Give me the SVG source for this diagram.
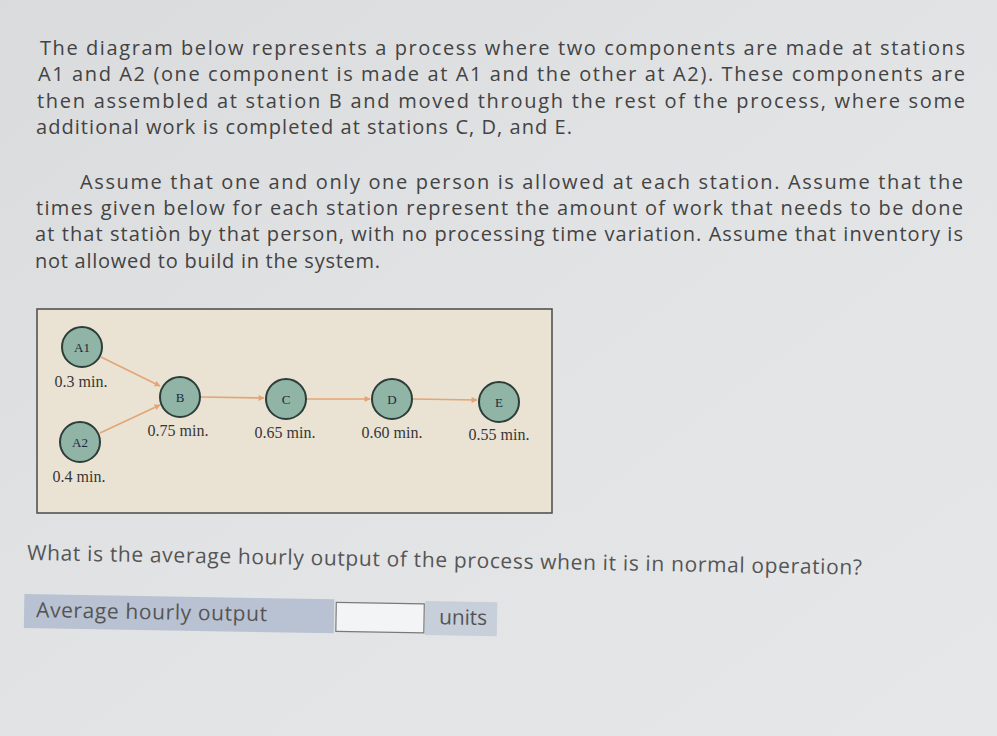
<svg xmlns="http://www.w3.org/2000/svg" width="997" height="736" viewBox="0 0 997 736">
<defs>
<linearGradient id="bg" x1="0" y1="0" x2="1" y2="1">
<stop offset="0" stop-color="#d9dbdd"/>
<stop offset="0.5" stop-color="#e2e3e5"/>
<stop offset="1" stop-color="#e6e7e9"/>
</linearGradient>
<marker id="arr" viewBox="0 0 10 10" refX="9" refY="5" markerWidth="7" markerHeight="6" orient="auto" markerUnits="userSpaceOnUse">
<path d="M0,0 L10,5 L0,10 z" fill="#e3a574"/>
</marker>
<style>
.p{font-family:"Open Sans","Liberation Sans",sans-serif;font-size:20px;fill:#434343}
.q{font-family:"Open Sans","Liberation Sans",sans-serif;font-size:21px;fill:#555555}
.lab{font-family:"Liberation Serif","DejaVu Serif",serif;font-size:16px;fill:#363636;text-anchor:middle}
.nt{font-family:"Liberation Serif","DejaVu Serif",serif;font-size:13px;fill:#1e2840;text-anchor:middle}
.node circle{fill:#90b4a6;stroke:#2e3d38;stroke-width:2}
.edge{stroke:#e3a574;stroke-width:1.6;fill:none;marker-end:url(#arr)}
</style>
</defs>
<rect width="997" height="736" fill="url(#bg)"/>

<text class="p" x="40" y="55" textLength="925" lengthAdjust="spacing">The diagram below represents a process where two components are made at stations</text>
<text class="p" x="38" y="81" textLength="927" lengthAdjust="spacing">A1 and A2 (one component is made at A1 and the other at A2). These components are</text>
<text class="p" x="37" y="108" textLength="928" lengthAdjust="spacing">then assembled at station B and moved through the rest of the process, where some</text>
<text class="p" x="36" y="134" textLength="536" lengthAdjust="spacing">additional work is completed at stations C, D, and E.</text>

<text class="p" x="80" y="189" textLength="883" lengthAdjust="spacing">Assume that one and only one person is allowed at each station. Assume that the</text>
<text class="p" x="36" y="215" textLength="927" lengthAdjust="spacing">times given below for each station represent the amount of work that needs to be done</text>
<text class="p" x="35" y="241" textLength="928" lengthAdjust="spacing">at that statiòn by that person, with no processing time variation. Assume that inventory is</text>
<text class="p" x="35" y="268" textLength="345" lengthAdjust="spacing">not allowed to build in the system.</text>

<rect x="37" y="309" width="515" height="204" fill="#eae3d4" stroke="#4a4a4a" stroke-width="1.5"/>

<g id="connectors">
<line class="edge" x1="101" y1="357" x2="160" y2="386"/>
<line class="edge" x1="100" y1="433" x2="160" y2="405"/>
<line class="edge" x1="201" y1="397" x2="264" y2="398"/>
<line class="edge" x1="307" y1="399" x2="370" y2="399"/>
<line class="edge" x1="413" y1="399" x2="477" y2="400"/>
</g>

<g id="A1" class="node"><circle cx="82" cy="347" r="20"/><text class="nt" x="82" y="351.5">A1</text></g>
<text class="lab" x="81" y="387">0.3 min.</text>
<g id="A2" class="node"><circle cx="80" cy="442" r="20"/><text class="nt" x="80" y="446.5">A2</text></g>
<text class="lab" x="79" y="482">0.4 min.</text>
<g id="B" class="node"><circle cx="180" cy="397" r="20"/><text class="nt" x="180" y="401.5">B</text></g>
<text class="lab" x="178" y="436">0.75 min.</text>
<g id="C" class="node"><circle cx="286" cy="399" r="20"/><text class="nt" x="286" y="403.5">C</text></g>
<text class="lab" x="285" y="438">0.65 min.</text>
<g id="D" class="node"><circle cx="392" cy="399" r="20"/><text class="nt" x="392" y="403.5">D</text></g>
<text class="lab" x="392" y="438">0.60 min.</text>
<g id="E" class="node"><circle cx="499" cy="402" r="20"/><text class="nt" x="499" y="406.5">E</text></g>
<text class="lab" x="499" y="440">0.55 min.</text>

<g transform="rotate(1 27 560)">
<text class="q" x="27" y="560" textLength="835" lengthAdjust="spacing">What is the average hourly output of the process when it is in normal operation?</text>
<rect x="25" y="594" width="310" height="34" fill="#b9c2d2"/>
<rect x="426" y="594" width="72" height="34" fill="#c7cfdb"/>
<rect x="337" y="597" width="88" height="29" fill="#f3f4f5" stroke="#7a7a7a" stroke-width="1.2"/>
<text class="q" x="37" y="617" textLength="231" lengthAdjust="spacing">Average hourly output</text>
<text class="q" x="440" y="617" textLength="48" lengthAdjust="spacing">units</text>
</g>
</svg>
